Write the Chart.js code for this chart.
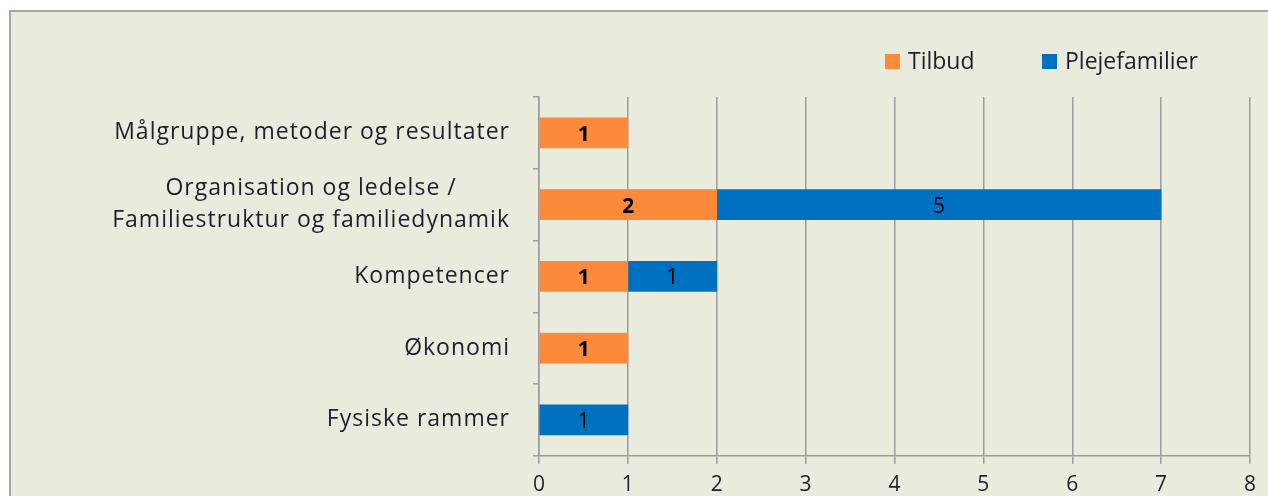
<!DOCTYPE html>
<html>
<head>
<meta charset="utf-8">
<script src="https://cdn.jsdelivr.net/npm/chart.js@4.4.1/dist/chart.umd.min.js"></script>
<style>
  html, body { margin: 0; padding: 0; background: #ffffff; overflow: hidden; }
  #wrap { position: relative; width: 1268px; height: 496px; overflow: hidden; }
  #frame {
    position: absolute; left: 9px; top: 10px; width: 1300px; height: 520px;
    background: #e9ecdc; border-left: 2px solid #a6a6a6; border-top: 2px solid #a6a6a6;
  }
  #chart { position: absolute; left: 0; top: 0; }
</style>
</head>
<body>
<div id="wrap">
  <div id="frame"></div>
  <canvas id="chart" width="1268" height="507"></canvas>
</div>
<script>
// Data
const categories = [
    'Målgruppe, metoder og resultater',
    ['Organisation og ledelse /', 'Familiestruktur og familiedynamik'],
    'Kompetencer',
    'Økonomi',
    'Fysiske rammer'
];
const tilbud = [1, 2, 1, 1, null];
const plejefamilier = [null, 5, 1, null, 1];
const xTicks = [0, 1, 2, 3, 4, 5, 6, 7, 8];

const FONT = '"Open Sans", Lato, sans-serif';
const TEXT = '#1c1f2e';
const GRID = '#9c9c9c';

// Category labels: right-aligned block, lines centred within it
const categoryLabels = {
    id: 'categoryLabels',
    afterDraw(chart) {
        const ctx = chart.ctx;
        const y = chart.scales.y;
        ctx.save();
        ctx.font = '23px ' + FONT;
        ctx.letterSpacing = '1px';
        ctx.fillStyle = TEXT;
        ctx.textBaseline = 'middle';
        ctx.textAlign = 'center';
        categories.forEach((label, i) => {
            const lines = Array.isArray(label) ? label : [label];
            const w = Math.max(...lines.map(l => ctx.measureText(l).width));
            const cx = 510 - w / 2;
            const cy = y.getPixelForTick(i);
            const lh = 32;
            lines.forEach((l, j) => {
                ctx.fillText(l, cx, cy + (j - (lines.length - 1) / 2) * lh);
            });
        });
        ctx.restore();
    }
};

// Value labels inside the bars
const barLabels = {
    id: 'barLabels',
    afterDatasetsDraw(chart) {
        const ctx = chart.ctx;
        ctx.save();
        ctx.textAlign = 'center';
        ctx.textBaseline = 'middle';
        ctx.fillStyle = '#000000';
        chart.data.datasets.forEach((ds, di) => {
            const meta = chart.getDatasetMeta(di);
            ctx.font = (di === 0 ? 'bold ' : '') + '21px ' + FONT;
            meta.data.forEach((bar, i) => {
                const v = ds.data[i];
                if (v === null || v === undefined) return;
                const p = bar.getCenterPoint();
                ctx.fillText(String(v), p.x, p.y + 2);
            });
        });
        ctx.restore();
    }
};

// Legend in the top right
const topLegend = {
    id: 'topLegend',
    afterDraw(chart) {
        const ctx = chart.ctx;
        ctx.save();
        ctx.font = '23px ' + FONT;
        ctx.textBaseline = 'middle';
        ctx.textAlign = 'left';
        chart.data.datasets.forEach((ds, i) => {
            const x = 885 + i * 157;
            ctx.fillStyle = ds.backgroundColor;
            ctx.fillRect(x, 54, 15, 15);
            ctx.fillStyle = TEXT;
            ctx.fillText(ds.label, x + 23, 62);
        });
        ctx.restore();
    }
};

new Chart(document.getElementById('chart'), {
    type: 'bar',
    data: {
        labels: categories,
        datasets: [
            { label: 'Tilbud', data: tilbud, backgroundColor: '#fd8a3b', borderWidth: 0 },
            { label: 'Plejefamilier', data: plejefamilier, backgroundColor: '#0070c0', borderWidth: 0 }
        ]
    },
    options: {
        indexAxis: 'y',
        responsive: false,
        animation: false,
        devicePixelRatio: 1,
        barThickness: 30,
        layout: { padding: { top: 97, right: 18, left: 0, bottom: 0 } },
        plugins: {
            legend: { display: false },
            tooltip: { enabled: false }
        },
        scales: {
            x: {
                stacked: true,
                min: 0,
                max: 8,
                afterBuildTicks(scale) {
                    scale.ticks = xTicks.map(v => ({ value: v }));
                },
                grid: { color: GRID, lineWidth: 1.5, tickLength: 8 },
                border: { color: GRID, width: 1.5 },
                ticks: {
                    padding: 9,
                    color: TEXT,
                    font: { family: FONT, size: 21 }
                }
            },
            y: {
                stacked: true,
                afterFit(scale) { scale.width = 539; },
                grid: { offset: true, drawOnChartArea: false, color: GRID, lineWidth: 1.5, tickLength: 6 },
                border: { color: GRID, width: 1.5 },
                ticks: { display: false }
            }
        }
    },
    plugins: [categoryLabels, barLabels, topLegend]
});
</script>
</body>
</html>
